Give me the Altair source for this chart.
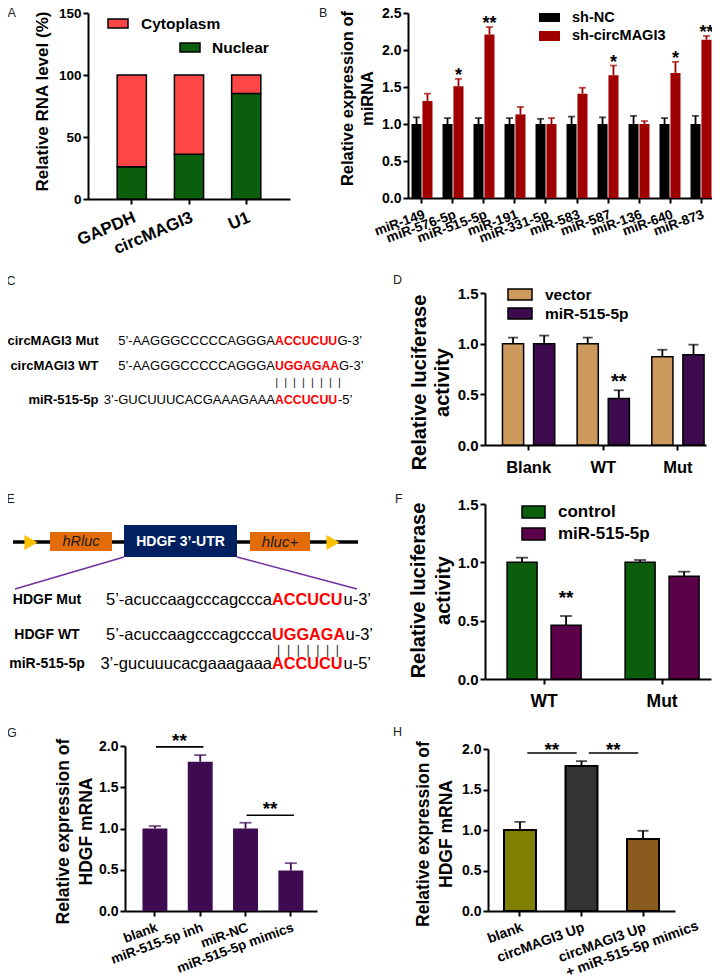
import altair as alt
import pandas as pd

FONT = "Liberation Sans"
PADL, PADT = 3, 4
W, H = 704 - PADL, 963 - PADT


def X(v):
    return v - 8 - PADL


def Y(v):
    return v - 8 - PADT


# ---------------- data ----------------
a_cats = ["GAPDH", "circMAGI3", "U1"]
a_series = ["Cytoplasm", "Nuclear"]
a_nuclear = [26, 36, 85]
a_cyto = [74, 64, 15]

b_mirs = ["miR-149", "miR-576-5p", "miR-515-5p", "miR-191", "miR-331-5p",
          "miR-583", "miR-587", "miR-136", "miR-640", "miR-873"]
b_series = ["sh-NC", "sh-circMAGI3"]
b_nc = [1.00, 1.00, 1.00, 1.00, 1.00, 1.00, 1.00, 1.00, 1.00, 1.00]
b_nc_err = [0.09, 0.08, 0.08, 0.08, 0.07, 0.10, 0.09, 0.11, 0.08, 0.11]
b_sh = [1.31, 1.51, 2.21, 1.13, 1.00, 1.41, 1.66, 1.00, 1.69, 2.14]
b_sh_err = [0.10, 0.10, 0.10, 0.10, 0.08, 0.08, 0.13, 0.04, 0.15, 0.05]
b_sig = ["", "*", "**", "", "", "", "*", "", "*", "**"]

c_names = ["circMAGI3 Mut", "circMAGI3 WT", "miR-515-5p"]
c_pre = ["5\u2019-AAGGGCCCCCAGGGA", "5\u2019-AAGGGCCCCCAGGGA", "3\u2019-GUCUUUCACGAAAGAAA"]
c_site = ["ACCUCUU", "UGGAGAA", "ACCUCUU"]
c_post = ["G-3\u2019", "G-3\u2019", "-5\u2019"]

d_groups = ["Blank", "WT", "Mut"]
d_series = ["vector", "miR-515-5p"]
d_vec = [1.00, 1.00, 0.87]
d_vec_err = [0.06, 0.06, 0.07]
d_mir = [1.00, 0.46, 0.89]
d_mir_err = [0.08, 0.08, 0.10]
d_sig = ["", "**", ""]

e_names = ["HDGF Mut", "HDGF WT", "miR-515-5p"]
e_pre = ["5\u2019-acuccaagcccagccca", "5\u2019-acuccaagcccagccca", "3\u2019-gucuuucacgaaagaaa"]
e_site = ["ACCUCU", "UGGAGA", "ACCUCU"]
e_post = ["u-3\u2019", "u-3\u2019", "u-5\u2019"]
e_parts = ["hRluc", "HDGF 3\u2019-UTR", "hluc+"]

f_groups = ["WT", "Mut"]
f_series = ["control", "miR-515-5p"]
f_ctl = [1.00, 1.00]
f_ctl_err = [0.04, 0.02]
f_mir = [0.46, 0.88]
f_mir_err = [0.08, 0.04]
f_sig = ["**", ""]

g_cats = ["blank", "miR-515-5p inh", "miR-NC", "miR-515-5p mimics"]
g_vals = [1.00, 1.81, 1.00, 0.49]
g_err = [0.03, 0.08, 0.07, 0.09]
g_cmp_from = ["blank", "miR-NC"]
g_cmp_to = ["miR-515-5p inh", "miR-515-5p mimics"]
g_cmp_y = [1.99, 1.16]
g_cmp_sig = ["**", "**"]

h_cats = ["blank", "circMAGI3 Up", "circMAGI3 Up\n+ miR-515-5p mimics"]
h_vals = [1.00, 1.79, 0.89]
h_err = [0.10, 0.06, 0.10]
h_cmp_from = ["blank", "circMAGI3 Up"]
h_cmp_to = ["circMAGI3 Up", "circMAGI3 Up\n+ miR-515-5p mimics"]
h_cmp_y = [1.95, 1.95]
h_cmp_sig = ["**", "**"]

# ---------------- colours ----------------
A_COL = ["#FF4646", "#0B5E0B"]
B_COL = ["#000000", "#A00000"]
D_COL = ["#CC9A5C", "#3D0A4E"]
F_COL = ["#0B5E0B", "#5C004C"]
G_COL = "#3E0A52"
H_COL = ["#7F7F00", "#333333", "#8B5A1E"]
RED = "#FF0000"

ONE = pd.DataFrame({"k": [0]})


def label(s, x, y, size, weight="normal", color="black", align="left",
          baseline="middle", style="normal", angle=0, dx=0, dy=0):
    return alt.Chart(pd.DataFrame({"t": [s]})).mark_text(
        font=FONT, fontSize=size, fontWeight=weight, color=color, align=align,
        baseline=baseline, fontStyle=style, angle=angle, dx=dx, dy=dy
    ).encode(x=alt.value(X(x)), y=alt.value(Y(y)), text="t:N")


def box(x1, y1, x2, y2, fill, stroke=None, sw=0):
    kw = dict(fill=fill)
    if stroke:
        kw.update(stroke=stroke, strokeWidth=sw)
    return alt.Chart(ONE).mark_rect(**kw).encode(
        x=alt.value(X(x1)), x2=alt.value(X(x2)), y=alt.value(Y(y1)), y2=alt.value(Y(y2)))


def seg(x1, y1, x2, y2, color, sw):
    return alt.Chart(ONE).mark_rule(color=color, strokeWidth=sw).encode(
        x=alt.value(X(x1)), x2=alt.value(X(x2)), y=alt.value(Y(y1)), y2=alt.value(Y(y2)))


AX = dict(domainColor="black", domainWidth=2, tickColor="black", tickWidth=2, tickSize=5,
          labelFont=FONT, labelFontWeight="bold", labelColor="black", grid=False,
          labelOverlap=False, labelLimit=400,
          titleFont=FONT, titleFontWeight="bold", titleColor="black")


def yaxis(xpage, values, fmt, lfs, title, tfs, tcx, tcy, lh=None):
    # tcx: page x of the centre of the first title line
    kw = dict(AX, orient="left", offset=-X(xpage), values=values, format=fmt,
              labelFontSize=lfs, labelPadding=2, title=title, titleFontSize=tfs,
              titleAngle=270, titleAlign="center", titleBaseline="middle",
              titleX=tcx - xpage, titleY=Y(tcy))
    if lh:
        kw["titleLineHeight"] = lh
    return alt.Axis(**kw)


def xaxis(ypage, lfs, angle=0, pad=4, expr=None):
    kw = dict(AX, orient="bottom", offset=Y(ypage) - H, title=None, labelFontSize=lfs,
              labelAngle=angle, labelAlign="right" if angle else "center",
              labelBaseline="top", labelPadding=pad)
    if expr:
        kw["labelExpr"] = expr
    return alt.Axis(**kw)


layers = []

# ---------------- panel letters ----------------
for s, x, y in [("A", 7.5, 16.7), ("B", 319, 16.7), ("C", 6.5, 284.5), ("D", 393, 284),
                ("E", 6.5, 503), ("F", 395, 503), ("G", 7, 737), ("H", 393, 736)]:
    layers.append(label(s, x, y, 12.5, color="#222222", baseline="alphabetic"))

# ---------------- panel A ----------------
dfA = pd.DataFrame({"cat": a_cats * 2,
                    "series": [a_series[1]] * 3 + [a_series[0]] * 3,
                    "val": a_nuclear + a_cyto,
                    "ord": [0] * 3 + [1] * 3})
barsA = alt.Chart(dfA).mark_bar(stroke="black", strokeWidth=1.5).encode(
    x=alt.X("cat:N", sort=a_cats,
            scale=alt.Scale(domain=a_cats, range=[X(88), X(290)], paddingInner=0.49,
                            paddingOuter=0.51, align=0.5),
            axis=xaxis(199, 17, -23, 5)),
    y=alt.Y("val:Q", stack="zero",
            scale=alt.Scale(domain=[0, 150], range=[Y(199), Y(13)], nice=False),
            axis=yaxis(88, [0, 50, 100, 150], "d", 13.5, "Relative RNA level (%)", 17, 42, 101)),
    color=alt.Color("series:N", scale=alt.Scale(domain=a_series, range=A_COL), legend=None),
    order=alt.Order("ord:Q"),
)
layers.append(barsA)
layers += [box(108, 19, 128, 28, A_COL[0], "black", 1.5),
           label(a_series[0], 141, 23.5, 15.5, "bold"),
           box(180, 43, 200, 52, A_COL[1], "black", 1.5),
           label(a_series[1], 212, 47.5, 15.5, "bold")]


# ---------------- grouped bar helper ----------------
def grouped(df, cats, series, colors, xr, pin, pout, align, xaxis_, yscale, yaxis_,
            opad, stroke, errcol, capsize, star_fs, star_dy):
    x = alt.X("cat:N", sort=cats,
              scale=alt.Scale(domain=cats, range=xr, paddingInner=pin, paddingOuter=pout, align=align),
              axis=xaxis_)
    xo = alt.XOffset("grp:N", sort=series, scale=alt.Scale(domain=series, paddingInner=opad))
    col = alt.Color("grp:N", scale=alt.Scale(domain=series, range=colors), legend=None)
    base = alt.Chart(df).encode(x=x, xOffset=xo)
    bk = dict(stroke="black", strokeWidth=1.5) if stroke else {}
    bars = base.mark_bar(**bk).encode(y=alt.Y("mean:Q", stack=None, scale=yscale, axis=yaxis_), color=col)
    if errcol is None:
        err = base.mark_rule(strokeWidth=1.8).encode(y="mean:Q", y2="top:Q", color=col)
        cap = base.mark_tick(size=capsize, thickness=1.8).encode(y="top:Q", color=col)
    else:
        err = base.mark_rule(strokeWidth=1.8, color=errcol).encode(y="mean:Q", y2="top:Q")
        cap = base.mark_tick(size=capsize, thickness=1.8, color=errcol).encode(y="top:Q")
    star = base.mark_text(font=FONT, fontSize=star_fs, fontWeight="bold", color="black",
                          baseline="alphabetic", dy=star_dy).encode(y="top:Q", text="sig:N")
    return alt.layer(bars, err, cap, star)


def long_df(cats, series, means, errs, sigs):
    rows = []
    for i, c in enumerate(cats):
        for j, s in enumerate(series):
            rows.append({"cat": c, "grp": s, "mean": means[j][i],
                         "top": means[j][i] + errs[j][i], "sig": sigs[j][i]})
    return pd.DataFrame(rows)


# ---------------- panel B ----------------
dfB = long_df(b_mirs, b_series, [b_nc, b_sh], [b_nc_err, b_sh_err], [[""] * 10, b_sig])
layers.append(grouped(
    dfB, b_mirs, b_series, B_COL, [X(408), X(715)], 0.323, 0.113, 0.5,
    xaxis(198, 13.5, -20, 4),
    alt.Scale(domain=[0, 2.5], range=[Y(198), Y(13)], nice=False),
    yaxis(408, [0, 0.5, 1.0, 1.5, 2.0, 2.5], ".1f", 14,
          ["Relative expression of", "miRNA"], 16.5, 347, 98, 20),
    0.08, False, None, 7, 18, 2))
layers += [box(539, 13, 560, 22, B_COL[0]), label(b_series[0], 572, 18, 14.5, "bold"),
           box(539, 31, 560, 41, B_COL[1]), label(b_series[1], 572, 36, 14.5, "bold")]

# ---------------- panel C ----------------
c_y = [341, 365.5, 400]
c_post_x = [337.5, 339, 338]
for i in range(3):
    layers += [label(c_names[i], 98.5, c_y[i], 13, "bold", align="right"),
               label(c_pre[i], 275, c_y[i], 13, align="right"),
               label(c_site[i], 275, c_y[i], 12.3, "bold", color=RED),
               label(c_post[i], c_post_x[i], c_y[i], 13)]
layers.append(label("\u00a0\u00a0".join(["|"] * 8), 308, 382.5, 11, align="center", color="#222222"))

# ---------------- panel D ----------------
dfD = long_df(d_groups, d_series, [d_vec, d_mir], [d_vec_err, d_mir_err], [["", "", ""], d_sig])
layers.append(grouped(
    dfD, d_groups, d_series, D_COL, [X(485), X(706)], 0.30, 0.13, 0.9,
    xaxis(445, 16.5, 0, 9),
    alt.Scale(domain=[0, 1.5], range=[Y(445), Y(293)], nice=False),
    yaxis(485, [0, 0.5, 1.0, 1.5], ".1f", 15,
          ["Relative luciferase", "activity"], 20, 419, 382, 23),
    0.32, True, "black", 10, 20, -2))
layers += [box(508, 289, 532, 300, D_COL[0], "black", 1.5), label(d_series[0], 545, 294.5, 15.5, "bold"),
           box(508, 308, 532, 319, D_COL[1], "black", 1.5), label(d_series[1], 545, 313.5, 15.5, "bold")]

# ---------------- panel E ----------------
layers += [
    seg(13, 542, 358, 542, "black", 3.5),
    alt.Chart(ONE).mark_point(shape="triangle-right", filled=True, color="#FFC000", size=230, opacity=1)
    .encode(x=alt.value(X(31)), y=alt.value(Y(542.5))),
    alt.Chart(ONE).mark_point(shape="triangle-right", filled=True, color="#FFC000", size=230, opacity=1)
    .encode(x=alt.value(X(333)), y=alt.value(Y(542.5))),
    box(50, 532, 112, 551, "#E36C09"),
    box(250, 532, 310, 551, "#E36C09"),
    box(124, 525, 237, 557, "#002060"),
    label(e_parts[0], 81, 542, 14.5, style="italic", align="center", color="#1a1a1a"),
    label(e_parts[1], 180.5, 541.5, 14, "bold", align="center", color="white"),
    label(e_parts[2], 280, 542, 15, style="italic", align="center", color="#1a1a1a"),
    seg(124, 557, 15, 589, "#7030A0", 1.5),
    seg(237, 557, 357, 589, "#7030A0", 1.5),
]
e_y = [600, 635, 664]
e_post_x = [343.5, 345.5, 343.5]
for i in range(3):
    layers += [label(e_names[i], 47, e_y[i], 14, "bold", align="center"),
               label(e_pre[i], 272, e_y[i], 16.5, align="right"),
               label(e_site[i], 272, e_y[i], 16.3, "bold", color=RED),
               label(e_post[i], e_post_x[i], e_y[i], 16.5)]
layers.append(label("\u00a0\u00a0".join(["|"] * 7), 308, 650, 12, align="center", color="#222222"))

# ---------------- panel F ----------------
dfF = long_df(f_groups, f_series, [f_ctl, f_mir], [f_ctl_err, f_mir_err], [["", ""], f_sig])
layers.append(grouped(
    dfF, f_groups, f_series, F_COL, [X(485), X(711)], 0.373, 0.144, 0.65,
    xaxis(679, 17.5, 0, 8),
    alt.Scale(domain=[0, 1.5], range=[Y(679), Y(504)], nice=False),
    yaxis(485, [0, 0.5, 1.0, 1.5], ".1f", 15,
          ["Relative luciferase", "activity"], 20, 418, 590, 25),
    0.318, True, "black", 12, 19, -12))
layers += [box(522, 506, 545, 518, F_COL[0], "black", 1.5), label(f_series[0], 558, 512, 17, "bold"),
           box(522, 528, 545, 540, F_COL[1], "black", 1.5), label(f_series[1], 558, 534, 17, "bold")]

# ---------------- panel G ----------------
dfG = pd.DataFrame({"cat": g_cats, "mean": g_vals, "top": [v + e for v, e in zip(g_vals, g_err)]})
xG = alt.X("cat:N", sort=g_cats,
           scale=alt.Scale(domain=g_cats, range=[X(125), X(317)], paddingInner=0.45,
                           paddingOuter=0.344, align=0.56),
           axis=xaxis(911, 13.5, -20, 4))
yG = alt.Y("mean:Q", scale=alt.Scale(domain=[0, 2.0], range=[Y(911), Y(746)], nice=False),
           axis=yaxis(125, [0, 0.5, 1.0, 1.5, 2.0], ".1f", 14,
                      ["Relative expression of", "HDGF mRNA"], 17.5, 63, 831, 23))
baseG = alt.Chart(dfG).encode(x=xG)
dfGc = pd.DataFrame({"a": g_cmp_from, "b": g_cmp_to, "y": g_cmp_y, "sig": g_cmp_sig})
panelG = alt.layer(
    baseG.mark_bar(color=G_COL).encode(y=yG),
    baseG.mark_rule(color=G_COL, strokeWidth=1.8).encode(y="mean:Q", y2="top:Q"),
    baseG.mark_tick(color=G_COL, size=12, thickness=1.8).encode(y="top:Q"),
    alt.Chart(dfGc).mark_rule(color="black", strokeWidth=1.6).encode(
        x=alt.X("a:N", bandPosition=0.54), x2=alt.X2("b:N", bandPosition=0.63), y="y:Q"),
    alt.Chart(dfGc).mark_text(font=FONT, fontSize=19, fontWeight="bold", color="black",
                              baseline="alphabetic", dx=23.5, dy=0).encode(
        x=alt.X("a:N", bandPosition=0.54), y="y:Q", text="sig:N"),
)
layers.append(panelG)

# ---------------- panel H ----------------
dfH = pd.DataFrame({"cat": h_cats, "mean": h_vals, "top": [v + e for v, e in zip(h_vals, h_err)]})
xH = alt.X("cat:N", sort=h_cats,
           scale=alt.Scale(domain=h_cats, range=[X(488), X(675)], paddingInner=0.48,
                           paddingOuter=0.26, align=0.5),
           axis=xaxis(911, 14, -20, 4, "split(datum.label, '\\n')[0]"))
yH = alt.Y("mean:Q", scale=alt.Scale(domain=[0, 2.0], range=[Y(911), Y(749)], nice=False),
           axis=yaxis(488, [0, 0.5, 1.0, 1.5, 2.0], ".1f", 14,
                      ["Relative expression of", "HDGF mRNA"], 17.5, 423.5, 833.5, 23))
baseH = alt.Chart(dfH).encode(x=xH)
dfHc = pd.DataFrame({"a": h_cmp_from, "b": h_cmp_to, "y": h_cmp_y, "sig": h_cmp_sig})
line2 = pd.DataFrame({"cat": [c for c in h_cats if "\n" in c],
                      "t": [c.split("\n")[1] for c in h_cats if "\n" in c]})
panelH = alt.layer(
    baseH.mark_bar(stroke="black", strokeWidth=2).encode(
        y=yH, color=alt.Color("cat:N", scale=alt.Scale(domain=h_cats, range=H_COL), legend=None)),
    baseH.mark_rule(color="black", strokeWidth=1.8).encode(y="mean:Q", y2="top:Q"),
    baseH.mark_tick(color="black", size=11, thickness=1.8).encode(y="top:Q"),
    alt.Chart(dfHc).mark_rule(color="black", strokeWidth=1.6).encode(
        x=alt.X("a:N", bandPosition=0.73), x2=alt.X2("b:N", bandPosition=0.35), y="y:Q"),
    alt.Chart(dfHc).mark_text(font=FONT, fontSize=19, fontWeight="bold", color="black",
                              baseline="alphabetic", dx=24.5, dy=3).encode(
        x=alt.X("a:N", bandPosition=0.73), y="y:Q", text="sig:N"),
    alt.Chart(line2).mark_text(font=FONT, fontSize=14, fontWeight="bold", color="black",
                               align="left", baseline="top", angle=340, dx=-90, dy=17).encode(
        x="cat:N", y=alt.value(Y(911) + 9), text="t:N"),
)
layers.append(panelH)

chart = alt.layer(*layers).resolve_scale(
    x="independent", y="independent", color="independent", xOffset="independent"
).properties(
    width=W, height=H, background="white",
    padding={"left": PADL, "top": PADT, "right": 0, "bottom": 8},
    autosize=alt.AutoSizeParams(type="none"),
).configure_view(stroke=None)

chart.save("out.html", embed_options={"renderer": "svg", "actions": False})
